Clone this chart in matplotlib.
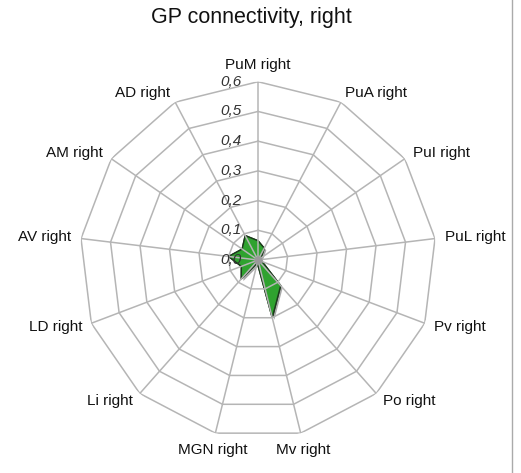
import numpy as np
import matplotlib

matplotlib.use("Agg")

import matplotlib.pyplot as plt
import matplotlib.patheffects as pe

plt.rcParams["font.family"] = ["Liberation Sans", "DejaVu Sans"]

categories = ["PuM right", "PuA right", "PuI right", "PuL right", "Pv right", "Po right",
              "Mv right", "MGN right", "Li right", "LD right", "AV right", "AM right", "AD right"]
values = [0.065, 0.045, 0.012, 0.005, 0.015, 0.115, 0.2, 0.01, 0.085, 0.06, 0.1, 0.065, 0.093]
ring_ticks = [0.0, 0.1, 0.2, 0.3, 0.4, 0.5, 0.6]
ring_labels = ["0,0", "0,1", "0,2", "0,3", "0,4", "0,5", "0,6"]
title = "GP connectivity, right"

n = len(categories)
angles = np.arange(n) * 2 * np.pi / n
closed = np.append(angles, angles[0])

fig = plt.figure(figsize=(5.21, 4.73), dpi=100)
ax = fig.add_axes([0.153, 0.0733, 0.6845, 0.7539], projection="polar")
ax.set_theta_zero_location("N")
ax.set_theta_direction(-1)
ax.set_ylim(0, 0.6)
ax.axis("off")

grid_color = "#b5b5b5"
rmax = ring_ticks[-1]

# data polygon
vals = np.append(values, values[0])
ax.fill(closed, vals, facecolor="#2fa22f", edgecolor="#1c3a1c", linewidth=1.0, zorder=2,
        path_effects=[pe.withSimplePatchShadow(offset=(1.5, -1.5), shadow_rgbFace="#555555", alpha=0.5),
                      pe.Normal()])

# polygonal rings and spokes
for r in ring_ticks[1:]:
    ax.plot(closed, [r] * (n + 1), color=grid_color, linewidth=1.1, zorder=3)
for a in angles:
    ax.plot([a, a], [0, rmax], color=grid_color, linewidth=1.1, zorder=3)
ax.plot([0], [0], marker="o", markersize=5, color="#9a9a9a", zorder=4)

# radial value labels
for r, lab in zip(ring_ticks, ring_labels):
    ax.annotate(lab, xy=(0, r), xytext=(-12, 0), textcoords="offset points",
                ha="right", va="center", fontsize=11, style="italic", color="#333333",
                annotation_clip=False, zorder=5)

# category labels
r_lab = rmax * 1.055
for a, lab in zip(angles, categories):
    s, c = np.sin(a), np.cos(a)
    if abs(s) < 0.3:
        ha = "center"
    else:
        ha = "left" if s > 0 else "right"
    if c > 0.9:
        va = "bottom"
    elif c < -0.9:
        va = "top"
    else:
        va = "center"
    ax.text(a, r_lab, lab, ha=ha, va=va, fontsize=11, color="#111111", clip_on=False)

fig.text(0.483, 0.962, title, ha="center", va="center", fontsize=15.5, color="#111111")

# right frame edge
fig.add_artist(plt.Line2D([512 / 521, 512 / 521], [0, 1], color="#aaaaaa", linewidth=1.0))

fig.savefig("out.png", dpi=100)
